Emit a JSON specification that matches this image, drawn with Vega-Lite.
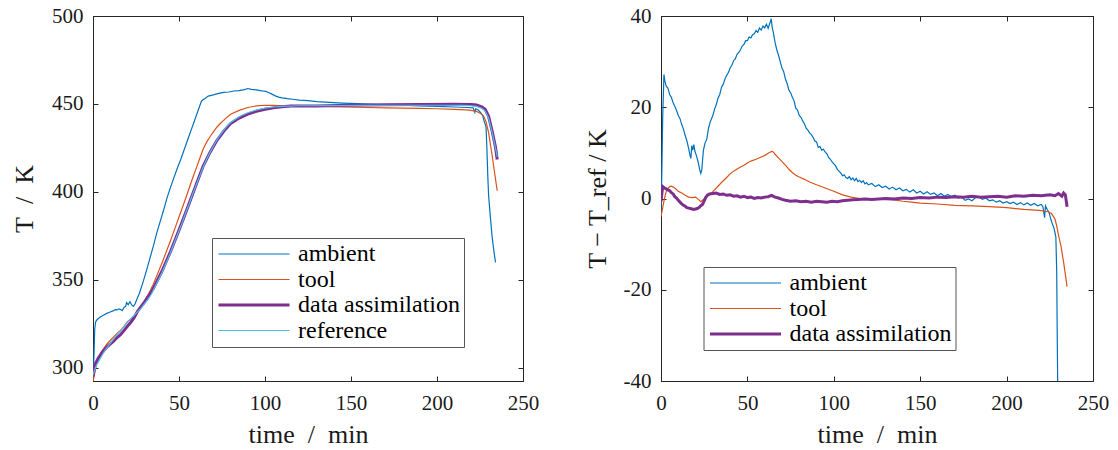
{
"$schema": "https://vega.github.io/schema/vega-lite/v6.json",
"padding": {"left": 11, "top": 4, "right": 4, "bottom": 0},
"bounds": "flush",
"config": {
  "font": "Liberation Serif",
  "view": {"stroke": "#262626", "strokeWidth": 1},
  "axis": {"grid": false, "domainColor": "#262626", "tickColor": "#262626", "labelColor": "#1a1a1a", "titleColor": "#1a1a1a", "labelFont": "Liberation Serif", "titleFont": "Liberation Serif", "labelFontSize": 21, "titleFontSize": 26, "titleFontWeight": "normal", "tickSize": -5, "domainWidth": 1, "tickWidth": 1, "labelFlush": false},
  "legend": {"labelFont": "Liberation Serif"},
  "concat": {"spacing": 138}
},
"datasets": {
"L": [
{"s":"ambient","t":0,"v":293},{"s":"ambient","t":0.5,"v":305},{"s":"ambient","t":1,"v":322},{"s":"ambient","t":1.5,"v":326},{"s":"ambient","t":2,"v":327},{"s":"ambient","t":3,"v":328},{"s":"ambient","t":4,"v":328.8},{"s":"ambient","t":6,"v":330},{"s":"ambient","t":8,"v":331},{"s":"ambient","t":10,"v":331.8},{"s":"ambient","t":12,"v":332.6},{"s":"ambient","t":13,"v":333.2},{"s":"ambient","t":14,"v":333},{"s":"ambient","t":15,"v":333.6},{"s":"ambient","t":16,"v":333.2},{"s":"ambient","t":17,"v":332.6},{"s":"ambient","t":18,"v":334.4},{"s":"ambient","t":19,"v":335},{"s":"ambient","t":19.5,"v":337.2},{"s":"ambient","t":20.5,"v":336},{"s":"ambient","t":21.5,"v":337.6},{"s":"ambient","t":22.5,"v":335.8},{"s":"ambient","t":23.5,"v":335},{"s":"ambient","t":24.5,"v":336.5},{"s":"ambient","t":25.5,"v":339},{"s":"ambient","t":27,"v":342.5},{"s":"ambient","t":29,"v":348.5},{"s":"ambient","t":31,"v":355},{"s":"ambient","t":33,"v":362},{"s":"ambient","t":35,"v":369},{"s":"ambient","t":37,"v":376.5},{"s":"ambient","t":39,"v":383},{"s":"ambient","t":41,"v":389.5},{"s":"ambient","t":43,"v":396.5},{"s":"ambient","t":45,"v":402.5},{"s":"ambient","t":47,"v":408},{"s":"ambient","t":49,"v":413.5},{"s":"ambient","t":51,"v":418.5},{"s":"ambient","t":53,"v":424},{"s":"ambient","t":55,"v":429.5},{"s":"ambient","t":57,"v":435},{"s":"ambient","t":59,"v":440.5},{"s":"ambient","t":61,"v":446},{"s":"ambient","t":63,"v":451.5},{"s":"ambient","t":64,"v":452.5},{"s":"ambient","t":65,"v":453},{"s":"ambient","t":67,"v":454.5},{"s":"ambient","t":70,"v":455.2},{"s":"ambient","t":73,"v":456},{"s":"ambient","t":76,"v":456.6},{"s":"ambient","t":79,"v":456.8},{"s":"ambient","t":82,"v":457.4},{"s":"ambient","t":85,"v":457.6},{"s":"ambient","t":88,"v":458.2},{"s":"ambient","t":90,"v":458.8},{"s":"ambient","t":92,"v":458.3},{"s":"ambient","t":95,"v":458},{"s":"ambient","t":98,"v":457.5},{"s":"ambient","t":100,"v":457.3},{"s":"ambient","t":102,"v":456.5},{"s":"ambient","t":104,"v":455.6},{"s":"ambient","t":106,"v":454.6},{"s":"ambient","t":108,"v":453.9},{"s":"ambient","t":110,"v":453.5},{"s":"ambient","t":113,"v":453},{"s":"ambient","t":116,"v":452.7},{"s":"ambient","t":120,"v":452.2},{"s":"ambient","t":125,"v":451.9},{"s":"ambient","t":130,"v":451.4},{"s":"ambient","t":135,"v":451.1},{"s":"ambient","t":140,"v":450.8},{"s":"ambient","t":145,"v":450.5},{"s":"ambient","t":150,"v":450.3},{"s":"ambient","t":160,"v":449.9},{"s":"ambient","t":170,"v":449.5},{"s":"ambient","t":180,"v":449.3},{"s":"ambient","t":190,"v":448.9},{"s":"ambient","t":200,"v":448.6},{"s":"ambient","t":210,"v":448.3},{"s":"ambient","t":218,"v":448},{"s":"ambient","t":221,"v":447.8},{"s":"ambient","t":222,"v":445.2},{"s":"ambient","t":222.5,"v":447.3},{"s":"ambient","t":224,"v":446.6},{"s":"ambient","t":225.5,"v":445},{"s":"ambient","t":226.5,"v":443.5},{"s":"ambient","t":227.5,"v":440},{"s":"ambient","t":228.5,"v":437},{"s":"ambient","t":229,"v":425},{"s":"ambient","t":229.5,"v":410},{"s":"ambient","t":230,"v":398},{"s":"ambient","t":231,"v":386},{"s":"ambient","t":232,"v":375},{"s":"ambient","t":233,"v":367},{"s":"ambient","t":234,"v":360},
{"s":"tool","t":0,"v":292},{"s":"tool","t":1,"v":297},{"s":"tool","t":2,"v":301.8},{"s":"tool","t":3,"v":304.5},{"s":"tool","t":5,"v":309.4},{"s":"tool","t":8,"v":313.5},{"s":"tool","t":10,"v":315.6},{"s":"tool","t":12,"v":317.7},{"s":"tool","t":14,"v":319.6},{"s":"tool","t":16,"v":321.3},{"s":"tool","t":18,"v":323.7},{"s":"tool","t":20,"v":326.3},{"s":"tool","t":22,"v":327.7},{"s":"tool","t":24,"v":329.6},{"s":"tool","t":27,"v":333.6},{"s":"tool","t":30,"v":338},{"s":"tool","t":32,"v":341.3},{"s":"tool","t":35,"v":347.5},{"s":"tool","t":38,"v":354.6},{"s":"tool","t":40,"v":359.4},{"s":"tool","t":42,"v":364.5},{"s":"tool","t":45,"v":372.2},{"s":"tool","t":48,"v":380.3},{"s":"tool","t":50,"v":385.8},{"s":"tool","t":52,"v":391.2},{"s":"tool","t":55,"v":399.6},{"s":"tool","t":58,"v":408.1},{"s":"tool","t":60,"v":413.4},{"s":"tool","t":62,"v":418.9},{"s":"tool","t":64,"v":424.3},{"s":"tool","t":66,"v":428.2},{"s":"tool","t":68,"v":431.4},{"s":"tool","t":70,"v":434.1},{"s":"tool","t":72,"v":436.8},{"s":"tool","t":74,"v":438.9},{"s":"tool","t":77,"v":441.7},{"s":"tool","t":80,"v":444.2},{"s":"tool","t":85,"v":446.4},{"s":"tool","t":90,"v":448},{"s":"tool","t":95,"v":448.9},{"s":"tool","t":100,"v":449.3},{"s":"tool","t":105,"v":449.2},{"s":"tool","t":110,"v":449},{"s":"tool","t":120,"v":448.9},{"s":"tool","t":135,"v":448.7},{"s":"tool","t":145,"v":448.3},{"s":"tool","t":160,"v":448},{"s":"tool","t":170,"v":447.8},{"s":"tool","t":180,"v":447.7},{"s":"tool","t":190,"v":447.5},{"s":"tool","t":200,"v":447.3},{"s":"tool","t":210,"v":446.9},{"s":"tool","t":219,"v":446.5},{"s":"tool","t":223,"v":445.8},{"s":"tool","t":225,"v":444.8},{"s":"tool","t":227,"v":443.2},{"s":"tool","t":228.5,"v":440},{"s":"tool","t":230,"v":433.7},{"s":"tool","t":232,"v":421},{"s":"tool","t":234,"v":407.5},{"s":"tool","t":235,"v":400.7},
{"s":"data assimilation","t":0,"v":295.3},{"s":"data assimilation","t":1,"v":301.6},{"s":"data assimilation","t":3,"v":305.5},{"s":"data assimilation","t":5,"v":308.4},{"s":"data assimilation","t":8,"v":311.9},{"s":"data assimilation","t":10,"v":313.6},{"s":"data assimilation","t":12,"v":315.3},{"s":"data assimilation","t":14,"v":317.3},{"s":"data assimilation","t":16,"v":318.9},{"s":"data assimilation","t":18,"v":321.2},{"s":"data assimilation","t":20,"v":323.7},{"s":"data assimilation","t":22,"v":326},{"s":"data assimilation","t":24,"v":328.7},{"s":"data assimilation","t":26,"v":332.3},{"s":"data assimilation","t":28,"v":335},{"s":"data assimilation","t":30,"v":337.6},{"s":"data assimilation","t":35,"v":345},{"s":"data assimilation","t":40,"v":354.8},{"s":"data assimilation","t":45,"v":366},{"s":"data assimilation","t":50,"v":378.3},{"s":"data assimilation","t":55,"v":391.1},{"s":"data assimilation","t":60,"v":404.3},{"s":"data assimilation","t":64,"v":414.6},{"s":"data assimilation","t":68,"v":422.5},{"s":"data assimilation","t":72,"v":429.2},{"s":"data assimilation","t":76,"v":434.5},{"s":"data assimilation","t":80,"v":438.9},{"s":"data assimilation","t":85,"v":442},{"s":"data assimilation","t":90,"v":444.3},{"s":"data assimilation","t":95,"v":445.9},{"s":"data assimilation","t":100,"v":447},{"s":"data assimilation","t":105,"v":447.8},{"s":"data assimilation","t":110,"v":448.4},{"s":"data assimilation","t":115,"v":448.8},{"s":"data assimilation","t":130,"v":448.9},{"s":"data assimilation","t":150,"v":449.25},{"s":"data assimilation","t":170,"v":449.55},{"s":"data assimilation","t":190,"v":449.7},{"s":"data assimilation","t":210,"v":449.8},{"s":"data assimilation","t":220,"v":449.7},{"s":"data assimilation","t":223,"v":449.4},{"s":"data assimilation","t":226,"v":448.4},{"s":"data assimilation","t":228,"v":447},{"s":"data assimilation","t":230,"v":443},{"s":"data assimilation","t":232,"v":434.9},{"s":"data assimilation","t":234,"v":425.5},{"s":"data assimilation","t":235,"v":418.5},
{"s":"reference","t":0,"v":296},{"s":"reference","t":1,"v":299},{"s":"reference","t":2,"v":301.5},{"s":"reference","t":4,"v":305},{"s":"reference","t":6,"v":308.5},{"s":"reference","t":8,"v":311.5},{"s":"reference","t":10,"v":314},{"s":"reference","t":12,"v":316.5},{"s":"reference","t":14,"v":319},{"s":"reference","t":16,"v":321},{"s":"reference","t":18,"v":323.5},{"s":"reference","t":20,"v":326},{"s":"reference","t":22,"v":328},{"s":"reference","t":24,"v":330},{"s":"reference","t":26,"v":332},{"s":"reference","t":28,"v":334},{"s":"reference","t":30,"v":336.5},{"s":"reference","t":32,"v":339},{"s":"reference","t":34,"v":342},{"s":"reference","t":36,"v":346},{"s":"reference","t":38,"v":350},{"s":"reference","t":40,"v":354},{"s":"reference","t":42,"v":358.5},{"s":"reference","t":44,"v":363},{"s":"reference","t":46,"v":368},{"s":"reference","t":48,"v":373},{"s":"reference","t":50,"v":378},{"s":"reference","t":52,"v":383},{"s":"reference","t":54,"v":388.5},{"s":"reference","t":56,"v":393.5},{"s":"reference","t":58,"v":399},{"s":"reference","t":60,"v":404},{"s":"reference","t":62,"v":409},{"s":"reference","t":64,"v":414},{"s":"reference","t":66,"v":418.5},{"s":"reference","t":68,"v":422.5},{"s":"reference","t":70,"v":426},{"s":"reference","t":72,"v":429.5},{"s":"reference","t":74,"v":432.5},{"s":"reference","t":76,"v":435},{"s":"reference","t":78,"v":437.5},{"s":"reference","t":80,"v":439.5},{"s":"reference","t":83,"v":441.5},{"s":"reference","t":86,"v":443.3},{"s":"reference","t":90,"v":445},{"s":"reference","t":95,"v":446.6},{"s":"reference","t":100,"v":447.7},{"s":"reference","t":105,"v":448.3},{"s":"reference","t":110,"v":448.7},{"s":"reference","t":120,"v":449},{"s":"reference","t":140,"v":449.1},{"s":"reference","t":160,"v":449.2},{"s":"reference","t":180,"v":449.3},{"s":"reference","t":200,"v":449.3},{"s":"reference","t":215,"v":449.2},{"s":"reference","t":220,"v":449},{"s":"reference","t":223,"v":448.6},{"s":"reference","t":226,"v":447.5},{"s":"reference","t":228,"v":446},{"s":"reference","t":230,"v":442},{"s":"reference","t":232,"v":434},{"s":"reference","t":234,"v":425},{"s":"reference","t":235,"v":420}
],
"R": [
{"s":"ambient","t":0,"v":-3},{"s":"ambient","t":0.5,"v":6},{"s":"ambient","t":1,"v":18},{"s":"ambient","t":1.7,"v":27.2},{"s":"ambient","t":2.2,"v":25.8},{"s":"ambient","t":3,"v":24.6},{"s":"ambient","t":4,"v":24.2},{"s":"ambient","t":5,"v":22.8},{"s":"ambient","t":6,"v":22.2},{"s":"ambient","t":7,"v":21},{"s":"ambient","t":8,"v":20.2},{"s":"ambient","t":9,"v":19.3},{"s":"ambient","t":10,"v":18.2},{"s":"ambient","t":11,"v":17.5},{"s":"ambient","t":12,"v":16.2},{"s":"ambient","t":13,"v":15.2},{"s":"ambient","t":14,"v":13.8},{"s":"ambient","t":15,"v":12.6},{"s":"ambient","t":16,"v":11},{"s":"ambient","t":16.8,"v":9.4},{"s":"ambient","t":17.3,"v":8.8},{"s":"ambient","t":17.8,"v":11.6},{"s":"ambient","t":18.4,"v":10.6},{"s":"ambient","t":19,"v":11.8},{"s":"ambient","t":19.6,"v":10.4},{"s":"ambient","t":20.5,"v":9.4},{"s":"ambient","t":21.5,"v":8},{"s":"ambient","t":22.3,"v":6.5},{"s":"ambient","t":23,"v":5.5},{"s":"ambient","t":23.6,"v":6.2},{"s":"ambient","t":24.5,"v":10.5},{"s":"ambient","t":25.5,"v":12.2},{"s":"ambient","t":26.5,"v":13},{"s":"ambient","t":27.5,"v":15.4},{"s":"ambient","t":28.5,"v":16.8},{"s":"ambient","t":30,"v":18.2},{"s":"ambient","t":31,"v":19.6},{"s":"ambient","t":32,"v":20.6},{"s":"ambient","t":33,"v":22},{"s":"ambient","t":34,"v":22.8},{"s":"ambient","t":35,"v":24.4},{"s":"ambient","t":36,"v":25},{"s":"ambient","t":37,"v":26.2},{"s":"ambient","t":38,"v":27},{"s":"ambient","t":39,"v":27.6},{"s":"ambient","t":40,"v":28.6},{"s":"ambient","t":41,"v":29.2},{"s":"ambient","t":42,"v":30.2},{"s":"ambient","t":43,"v":30.6},{"s":"ambient","t":44,"v":31.6},{"s":"ambient","t":45,"v":32},{"s":"ambient","t":46,"v":32.6},{"s":"ambient","t":47,"v":33.4},{"s":"ambient","t":48,"v":33.8},{"s":"ambient","t":49,"v":34.6},{"s":"ambient","t":50,"v":34.6},{"s":"ambient","t":51,"v":35.4},{"s":"ambient","t":52,"v":35.2},{"s":"ambient","t":53,"v":35.9},{"s":"ambient","t":54,"v":36.1},{"s":"ambient","t":55,"v":36.8},{"s":"ambient","t":56,"v":36.4},{"s":"ambient","t":57,"v":37.4},{"s":"ambient","t":58,"v":36.9},{"s":"ambient","t":59,"v":37.8},{"s":"ambient","t":60,"v":37.4},{"s":"ambient","t":61,"v":38.2},{"s":"ambient","t":62,"v":37.3},{"s":"ambient","t":63,"v":38.4},{"s":"ambient","t":63.8,"v":39.4},{"s":"ambient","t":64.3,"v":37.6},{"s":"ambient","t":65,"v":36.4},{"s":"ambient","t":66,"v":34.2},{"s":"ambient","t":67,"v":32.6},{"s":"ambient","t":68,"v":31.4},{"s":"ambient","t":69,"v":30},{"s":"ambient","t":70,"v":28.6},{"s":"ambient","t":71,"v":27.8},{"s":"ambient","t":72,"v":26.2},{"s":"ambient","t":73,"v":25.2},{"s":"ambient","t":74,"v":23.8},{"s":"ambient","t":75,"v":23.2},{"s":"ambient","t":76,"v":22.2},{"s":"ambient","t":77,"v":21.4},{"s":"ambient","t":78,"v":19.8},{"s":"ambient","t":79,"v":19.4},{"s":"ambient","t":80,"v":18.2},{"s":"ambient","t":81,"v":17.8},{"s":"ambient","t":82,"v":17},{"s":"ambient","t":83,"v":16.4},{"s":"ambient","t":84,"v":15.4},{"s":"ambient","t":85,"v":15},{"s":"ambient","t":86,"v":14.4},{"s":"ambient","t":87,"v":14},{"s":"ambient","t":88,"v":13.4},{"s":"ambient","t":89,"v":12.6},{"s":"ambient","t":90,"v":12.4},{"s":"ambient","t":91,"v":11.2},{"s":"ambient","t":92,"v":11.4},{"s":"ambient","t":93,"v":10.6},{"s":"ambient","t":94,"v":10.8},{"s":"ambient","t":95,"v":10.2},{"s":"ambient","t":96,"v":9.8},{"s":"ambient","t":97,"v":9},{"s":"ambient","t":98,"v":8.6},{"s":"ambient","t":99,"v":8},{"s":"ambient","t":100,"v":7.6},{"s":"ambient","t":101,"v":7.2},{"s":"ambient","t":102,"v":6.4},{"s":"ambient","t":103,"v":6},{"s":"ambient","t":104,"v":5.6},{"s":"ambient","t":105,"v":5},{"s":"ambient","t":106,"v":5.2},{"s":"ambient","t":107,"v":4.6},{"s":"ambient","t":108,"v":4.4},{"s":"ambient","t":109,"v":4.8},{"s":"ambient","t":110,"v":4.1},{"s":"ambient","t":111,"v":4.5},{"s":"ambient","t":112,"v":3.9},{"s":"ambient","t":113,"v":4.4},{"s":"ambient","t":114,"v":3.7},{"s":"ambient","t":115,"v":4},{"s":"ambient","t":116,"v":3.5},{"s":"ambient","t":117,"v":3.9},{"s":"ambient","t":118,"v":3.2},{"s":"ambient","t":119,"v":3.5},{"s":"ambient","t":120,"v":3},{"s":"ambient","t":122,"v":3.3},{"s":"ambient","t":124,"v":2.6},{"s":"ambient","t":126,"v":3},{"s":"ambient","t":128,"v":2.4},{"s":"ambient","t":130,"v":2.7},{"s":"ambient","t":132,"v":2.1},{"s":"ambient","t":134,"v":2.5},{"s":"ambient","t":136,"v":1.9},{"s":"ambient","t":138,"v":2.3},{"s":"ambient","t":140,"v":1.7},{"s":"ambient","t":142,"v":2},{"s":"ambient","t":144,"v":1.4},{"s":"ambient","t":146,"v":1.9},{"s":"ambient","t":148,"v":1.2},{"s":"ambient","t":150,"v":1.6},{"s":"ambient","t":152,"v":1},{"s":"ambient","t":154,"v":1.5},{"s":"ambient","t":156,"v":0.9},{"s":"ambient","t":158,"v":1.2},{"s":"ambient","t":160,"v":0.6},{"s":"ambient","t":162,"v":1.1},{"s":"ambient","t":164,"v":0.5},{"s":"ambient","t":166,"v":0.9},{"s":"ambient","t":168,"v":0.4},{"s":"ambient","t":170,"v":0.7},{"s":"ambient","t":172,"v":0.1},{"s":"ambient","t":174,"v":0.3},{"s":"ambient","t":176,"v":-0.4},{"s":"ambient","t":178,"v":-0.1},{"s":"ambient","t":180,"v":-0.5},{"s":"ambient","t":182,"v":0.2},{"s":"ambient","t":184,"v":0.4},{"s":"ambient","t":186,"v":-0.2},{"s":"ambient","t":188,"v":0.1},{"s":"ambient","t":190,"v":-0.5},{"s":"ambient","t":192,"v":-0.3},{"s":"ambient","t":194,"v":-0.8},{"s":"ambient","t":196,"v":-0.5},{"s":"ambient","t":198,"v":-1},{"s":"ambient","t":200,"v":-0.7},{"s":"ambient","t":202,"v":-1.1},{"s":"ambient","t":204,"v":-0.8},{"s":"ambient","t":206,"v":-1.3},{"s":"ambient","t":208,"v":-0.9},{"s":"ambient","t":210,"v":-1.4},{"s":"ambient","t":212,"v":-1},{"s":"ambient","t":214,"v":-1.5},{"s":"ambient","t":216,"v":-1.1},{"s":"ambient","t":218,"v":-1.6},{"s":"ambient","t":220,"v":-1.3},{"s":"ambient","t":221,"v":-1.8},{"s":"ambient","t":222,"v":-4.2},{"s":"ambient","t":222.5,"v":-1.6},{"s":"ambient","t":223.5,"v":-2.4},{"s":"ambient","t":224.5,"v":-3},{"s":"ambient","t":225.5,"v":-4.4},{"s":"ambient","t":226.5,"v":-5.6},{"s":"ambient","t":227.5,"v":-6.6},{"s":"ambient","t":228.5,"v":-8.4},{"s":"ambient","t":229,"v":-16},{"s":"ambient","t":229.3,"v":-30},{"s":"ambient","t":229.6,"v":-42},{"s":"ambient","t":230,"v":-48},{"s":"ambient","t":232,"v":-58},{"s":"ambient","t":234,"v":-64},
{"s":"tool","t":0,"v":-4},{"s":"tool","t":1,"v":-2},{"s":"tool","t":2,"v":0},{"s":"tool","t":3,"v":1.5},{"s":"tool","t":4,"v":2.2},{"s":"tool","t":5,"v":2.6},{"s":"tool","t":6,"v":2.7},{"s":"tool","t":8,"v":2.3},{"s":"tool","t":10,"v":1.6},{"s":"tool","t":12,"v":1.2},{"s":"tool","t":14,"v":0.7},{"s":"tool","t":16,"v":0.3},{"s":"tool","t":18,"v":0.2},{"s":"tool","t":20,"v":0.3},{"s":"tool","t":22,"v":-0.3},{"s":"tool","t":23,"v":-0.7},{"s":"tool","t":24,"v":-0.4},{"s":"tool","t":26,"v":0.2},{"s":"tool","t":28,"v":0.8},{"s":"tool","t":30,"v":1.5},{"s":"tool","t":32,"v":2.3},{"s":"tool","t":35,"v":3.5},{"s":"tool","t":38,"v":4.6},{"s":"tool","t":40,"v":5.4},{"s":"tool","t":42,"v":6},{"s":"tool","t":45,"v":6.7},{"s":"tool","t":48,"v":7.3},{"s":"tool","t":50,"v":7.8},{"s":"tool","t":52,"v":8.2},{"s":"tool","t":55,"v":8.6},{"s":"tool","t":58,"v":9.1},{"s":"tool","t":60,"v":9.4},{"s":"tool","t":62,"v":9.9},{"s":"tool","t":64,"v":10.3},{"s":"tool","t":65,"v":10.2},{"s":"tool","t":66,"v":9.7},{"s":"tool","t":68,"v":8.9},{"s":"tool","t":70,"v":8.1},{"s":"tool","t":72,"v":7.3},{"s":"tool","t":74,"v":6.4},{"s":"tool","t":76,"v":5.7},{"s":"tool","t":78,"v":5.1},{"s":"tool","t":80,"v":4.7},{"s":"tool","t":83,"v":4.2},{"s":"tool","t":86,"v":3.6},{"s":"tool","t":90,"v":3},{"s":"tool","t":95,"v":2.3},{"s":"tool","t":100,"v":1.6},{"s":"tool","t":105,"v":0.8},{"s":"tool","t":110,"v":0.3},{"s":"tool","t":115,"v":0},{"s":"tool","t":120,"v":-0.1},{"s":"tool","t":130,"v":-0.2},{"s":"tool","t":135,"v":-0.3},{"s":"tool","t":140,"v":-0.6},{"s":"tool","t":145,"v":-0.8},{"s":"tool","t":150,"v":-1},{"s":"tool","t":160,"v":-1.2},{"s":"tool","t":170,"v":-1.5},{"s":"tool","t":180,"v":-1.6},{"s":"tool","t":190,"v":-1.8},{"s":"tool","t":200,"v":-2},{"s":"tool","t":210,"v":-2.4},{"s":"tool","t":219,"v":-2.6},{"s":"tool","t":224,"v":-2.9},{"s":"tool","t":226,"v":-3.3},{"s":"tool","t":228,"v":-4.5},{"s":"tool","t":229,"v":-6},{"s":"tool","t":230,"v":-8},{"s":"tool","t":231.5,"v":-10.5},{"s":"tool","t":233,"v":-14},{"s":"tool","t":235,"v":-19.3},
{"s":"data assimilation","t":0,"v":-0.7},{"s":"data assimilation","t":0.5,"v":1},{"s":"data assimilation","t":1,"v":2.6},{"s":"data assimilation","t":2,"v":2.3},{"s":"data assimilation","t":3,"v":2.1},{"s":"data assimilation","t":4,"v":1.9},{"s":"data assimilation","t":5,"v":1.7},{"s":"data assimilation","t":6,"v":1.3},{"s":"data assimilation","t":7,"v":1},{"s":"data assimilation","t":8,"v":0.4},{"s":"data assimilation","t":9,"v":0.1},{"s":"data assimilation","t":10,"v":-0.4},{"s":"data assimilation","t":11,"v":-0.8},{"s":"data assimilation","t":12,"v":-1.2},{"s":"data assimilation","t":13,"v":-1.5},{"s":"data assimilation","t":14,"v":-1.7},{"s":"data assimilation","t":15,"v":-2},{"s":"data assimilation","t":16,"v":-2.1},{"s":"data assimilation","t":17,"v":-2.2},{"s":"data assimilation","t":18,"v":-2.3},{"s":"data assimilation","t":19,"v":-2.4},{"s":"data assimilation","t":20,"v":-2.3},{"s":"data assimilation","t":21,"v":-2.2},{"s":"data assimilation","t":22,"v":-2},{"s":"data assimilation","t":23,"v":-1.6},{"s":"data assimilation","t":24,"v":-1.3},{"s":"data assimilation","t":25,"v":-0.5},{"s":"data assimilation","t":26,"v":0.3},{"s":"data assimilation","t":27,"v":0.8},{"s":"data assimilation","t":28,"v":1},{"s":"data assimilation","t":30,"v":1.1},{"s":"data assimilation","t":32,"v":1.2},{"s":"data assimilation","t":34,"v":0.9},{"s":"data assimilation","t":36,"v":1},{"s":"data assimilation","t":38,"v":0.7},{"s":"data assimilation","t":40,"v":0.8},{"s":"data assimilation","t":42,"v":0.5},{"s":"data assimilation","t":44,"v":0.6},{"s":"data assimilation","t":46,"v":0.3},{"s":"data assimilation","t":48,"v":0.5},{"s":"data assimilation","t":50,"v":0.2},{"s":"data assimilation","t":52,"v":0.3},{"s":"data assimilation","t":54,"v":0},{"s":"data assimilation","t":56,"v":0.2},{"s":"data assimilation","t":58,"v":0.1},{"s":"data assimilation","t":60,"v":0.3},{"s":"data assimilation","t":62,"v":0.4},{"s":"data assimilation","t":64,"v":0.7},{"s":"data assimilation","t":66,"v":0.3},{"s":"data assimilation","t":68,"v":0.1},{"s":"data assimilation","t":70,"v":-0.2},{"s":"data assimilation","t":72,"v":-0.4},{"s":"data assimilation","t":75,"v":-0.6},{"s":"data assimilation","t":78,"v":-0.5},{"s":"data assimilation","t":81,"v":-0.7},{"s":"data assimilation","t":84,"v":-0.6},{"s":"data assimilation","t":87,"v":-0.8},{"s":"data assimilation","t":90,"v":-0.6},{"s":"data assimilation","t":93,"v":-0.7},{"s":"data assimilation","t":96,"v":-0.8},{"s":"data assimilation","t":99,"v":-0.6},{"s":"data assimilation","t":102,"v":-0.7},{"s":"data assimilation","t":105,"v":-0.5},{"s":"data assimilation","t":108,"v":-0.4},{"s":"data assimilation","t":111,"v":-0.3},{"s":"data assimilation","t":114,"v":-0.2},{"s":"data assimilation","t":118,"v":-0.1},{"s":"data assimilation","t":122,"v":-0.2},{"s":"data assimilation","t":126,"v":-0.1},{"s":"data assimilation","t":130,"v":0},{"s":"data assimilation","t":135,"v":-0.1},{"s":"data assimilation","t":140,"v":0.1},{"s":"data assimilation","t":145,"v":0},{"s":"data assimilation","t":150,"v":0.2},{"s":"data assimilation","t":155,"v":0.1},{"s":"data assimilation","t":160,"v":0.3},{"s":"data assimilation","t":165,"v":0.2},{"s":"data assimilation","t":170,"v":0.4},{"s":"data assimilation","t":175,"v":0.3},{"s":"data assimilation","t":180,"v":0.5},{"s":"data assimilation","t":185,"v":0.3},{"s":"data assimilation","t":190,"v":0.4},{"s":"data assimilation","t":195,"v":0.5},{"s":"data assimilation","t":200,"v":0.3},{"s":"data assimilation","t":205,"v":0.6},{"s":"data assimilation","t":210,"v":0.5},{"s":"data assimilation","t":215,"v":0.7},{"s":"data assimilation","t":220,"v":0.6},{"s":"data assimilation","t":225,"v":0.8},{"s":"data assimilation","t":228,"v":0.6},{"s":"data assimilation","t":230,"v":1.1},{"s":"data assimilation","t":232,"v":0.5},{"s":"data assimilation","t":233,"v":1.2},{"s":"data assimilation","t":234,"v":0.8},{"s":"data assimilation","t":234.5,"v":-0.5},{"s":"data assimilation","t":235,"v":-1.8}
]
},
"hconcat": [
{
 "width": 430, "height": 365,
 "data": {"name": "L"},
 "layer": [
  {"mark": {"type": "line", "clip": true},
   "encoding": {
    "x": {"field": "t", "type": "quantitative", "scale": {"domain": [0, 250], "nice": false}, "axis": {"orient": "bottom", "title": "time\u2002/\u2002min", "values": [0, 50, 100, 150, 200, 250], "labelPadding": 16, "titlePadding": 8}},
    "y": {"field": "v", "type": "quantitative", "scale": {"domain": [292.6, 500], "nice": false, "zero": false}, "axis": {"orient": "left", "title": "T\u2002/\u2002K", "values": [300, 350, 400, 450, 500], "labelPadding": 15, "titlePadding": 14}},
    "color": {"field": "s", "type": "nominal", "scale": {"domain": ["ambient", "tool", "data assimilation", "reference"], "range": ["#0072BD", "#D95319", "#7E2F8E", "#4DBEEE"]},
      "legend": {"orient": "none", "legendX": 119, "legendY": 222, "direction": "vertical", "title": null, "symbolType": "stroke", "symbolSize": 5041, "symbolStrokeWidth": 1.2, "symbolOffset": 26, "labelFontSize": 24, "labelLimit": 0, "labelColor": "#000000", "labelOffset": 32, "rowPadding": 1.5, "padding": 4, "strokeColor": "#555555", "fillColor": "#ffffff",
        "encode": {"symbols": {"update": {"strokeWidth": {"signal": "datum.value === 'data assimilation' ? 3 : 1.2"}}}}}},
    "strokeWidth": {"condition": {"test": "datum.s === 'data assimilation'", "value": 3}, "value": 1.2}
   }},
  {"mark": {"type": "point", "opacity": 0},
   "encoding": {
    "x": {"field": "t", "type": "quantitative", "scale": {"domain": [0, 250], "nice": false}, "axis": {"orient": "top", "labels": false, "title": null, "values": [0, 50, 100, 150, 200, 250]}},
    "y": {"field": "v", "type": "quantitative", "scale": {"domain": [292.6, 500], "nice": false, "zero": false}, "axis": {"orient": "right", "labels": false, "title": null, "values": [300, 350, 400, 450, 500]}}
   }}
 ],
 "resolve": {"axis": {"x": "independent", "y": "independent"}}
},
{
 "width": 432, "height": 365,
 "data": {"name": "R"},
 "layer": [
  {"mark": {"type": "line", "clip": true},
   "encoding": {
    "x": {"field": "t", "type": "quantitative", "scale": {"domain": [0, 250], "nice": false}, "axis": {"orient": "bottom", "title": "time\u2002/\u2002min", "values": [0, 50, 100, 150, 200, 250], "labelPadding": 16, "titlePadding": 8}},
    "y": {"field": "v", "type": "quantitative", "scale": {"domain": [-40, 40], "nice": false, "zero": false}, "axis": {"orient": "left", "title": "T − T_ref / K", "values": [-40, -20, 0, 20, 40], "labelPadding": 15, "titlePadding": 13, "labelExpr": "replace(datum.label, '−', '-')"}},
    "color": {"field": "s", "type": "nominal", "scale": {"domain": ["ambient", "tool", "data assimilation"], "range": ["#0072BD", "#D95319", "#7E2F8E"]},
      "legend": {"orient": "none", "legendX": 42.5, "legendY": 251, "direction": "vertical", "title": null, "symbolType": "stroke", "symbolSize": 5041, "symbolStrokeWidth": 1.2, "symbolOffset": 26, "labelFontSize": 24, "labelLimit": 0, "labelColor": "#000000", "labelOffset": 32, "rowPadding": 1.5, "padding": 4, "strokeColor": "#555555", "fillColor": "#ffffff",
        "encode": {"symbols": {"update": {"strokeWidth": {"signal": "datum.value === 'data assimilation' ? 3 : 1.2"}}}}}},
    "strokeWidth": {"condition": {"test": "datum.s === 'data assimilation'", "value": 3}, "value": 1.2}
   }},
  {"mark": {"type": "point", "opacity": 0},
   "encoding": {
    "x": {"field": "t", "type": "quantitative", "scale": {"domain": [0, 250], "nice": false}, "axis": {"orient": "top", "labels": false, "title": null, "values": [0, 50, 100, 150, 200, 250]}},
    "y": {"field": "v", "type": "quantitative", "scale": {"domain": [-40, 40], "nice": false, "zero": false}, "axis": {"orient": "right", "labels": false, "title": null, "values": [-40, -20, 0, 20, 40]}}
   }}
 ],
 "resolve": {"axis": {"x": "independent", "y": "independent"}}
}
],
"resolve": {"scale": {"color": "independent"}, "legend": {"color": "independent"}}
}
